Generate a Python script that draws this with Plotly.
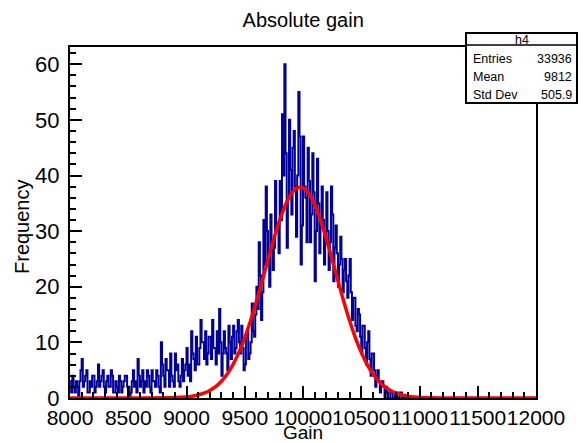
import numpy as np
import plotly.graph_objects as go

# ---- histogram definition (h4) ----
bin_lo = 8000
bin_hi = 12000
n_bins = 400

counts = [
    # 8000-8200
    3, 1, 4, 2, 1, 3, 2, 0, 3, 5, 7, 2, 3, 4, 5, 1, 1, 3, 2, 4,
    # 8200-8400
    4, 1, 2, 3, 6, 2, 3, 4, 5, 2, 1, 3, 4, 2, 2, 5, 4, 1, 1, 3,
    # 8400-8600
    2, 1, 4, 3, 1, 2, 3, 4, 4, 2, 2, 0, 1, 3, 5, 2, 3, 1, 7, 4,
    # 8600-8800
    2, 3, 5, 1, 3, 2, 5, 4, 2, 1, 5, 3, 3, 2, 5, 4, 2, 1, 10, 6,
    # 8800-9000
    4, 2, 7, 5, 5, 2, 8, 4, 3, 2, 8, 5, 6, 3, 2, 4, 7, 3, 5, 6,
    # 9000-9200
    9, 4, 6, 3, 12, 8, 7, 5, 11, 6, 6, 9, 14, 10, 10, 7, 12, 6, 8, 11,
    # 9200-9400
    11, 7, 14, 9, 9, 6, 12, 8, 16, 10, 4, 8, 12, 9, 8, 5, 13, 10, 7, 11,
    # 9400-9600
    13, 8, 9, 12, 14, 10, 8, 13, 9, 5, 6, 11, 12, 7, 8, 10, 17, 12, 11, 15,
    # 9600-9800
    20, 16, 28, 22, 14, 19, 32, 24, 38, 30, 25, 20, 33, 28, 23, 27, 39, 31, 30, 26,
    # 9800-10000
    39, 32, 51, 40, 60, 44, 27, 36, 50, 41, 33, 45, 48, 38, 29, 40, 55, 47, 24, 31,
    # 10000-10200
    47, 38, 36, 28, 45, 39, 28, 33, 44, 37, 21, 30, 43, 35, 26, 31, 38, 32, 24, 29,
    # 10200-10400
    37, 30, 23, 28, 38, 33, 21, 27, 31, 26, 20, 24, 29, 25, 19, 23, 25, 21, 18, 22,
    # 10400-10600
    25, 19, 14, 18, 18, 13, 12, 16, 15, 11, 8, 13, 13, 9, 6, 10, 12, 7, 4, 8,
    # 10600-10800
    8, 5, 2, 4, 5, 3, 1, 3, 3, 2, 0, 2, 1, 0, 0, 1, 1, 0, 0, 1,
    # 10800-11000
    1, 0, 0, 1, 1, 0, 0, 0, 0, 0, 0, 0, 0, 0, 0, 0, 0, 0, 0, 0,
    # 11000-12000
    0, 0, 0, 0, 0, 0, 0, 0, 0, 0, 0, 0, 0, 0, 0, 0, 0, 0, 0, 0,
    0, 0, 0, 0, 0, 0, 0, 0, 0, 0, 0, 0, 0, 0, 0, 0, 0, 0, 0, 0,
    0, 0, 0, 0, 0, 0, 0, 0, 0, 0, 0, 0, 0, 0, 0, 0, 0, 0, 0, 0,
    0, 0, 0, 0, 0, 0, 0, 0, 0, 0, 0, 0, 0, 0, 0, 0, 0, 0, 0, 0,
    0, 0, 0, 0, 0, 0, 0, 0, 0, 0, 0, 0, 0, 0, 0, 0, 0, 0, 0, 0,
]

# ---- gaussian fit curve ----
fit_x = [8000, 8500, 8900, 9000, 9050, 9100, 9150, 9200, 9250, 9300, 9350, 9400,
         9450, 9500, 9550, 9600, 9650, 9700, 9750, 9800, 9850, 9900, 9950,
         10000, 10050, 10100, 10150, 10200, 10250, 10300, 10350, 10400, 10450,
         10500, 10550, 10600, 10650, 10700, 10750, 10800, 10850, 10900, 10950,
         11100, 11500, 12000]
fit_y = [0.0, 0.0, 0.08, 0.19, 0.33, 0.54, 0.86, 1.35, 2.04, 3.02, 4.33, 6.04,
         8.20, 10.82, 13.89, 17.35, 21.08, 24.90, 28.61, 31.97, 34.75, 36.73, 37.77,
         37.77, 36.73, 34.75, 31.97, 28.61, 24.90, 21.08, 17.35, 13.89, 10.82,
         8.20, 6.04, 4.33, 3.02, 2.04, 1.35, 0.86, 0.54, 0.33, 0.19,
         0.03, 0.0, 0.0]

x_tick_vals = [8000, 8500, 9000, 9500, 10000, 10500, 11000, 11500, 12000]
x_tick_text = ["8000", "8500", "9000", "9500", "10000", "10500", "11000", "11500", "12000"]

stats_name = "h4"
stats_labels = ["Entries", "Mean", "Std Dev"]
stats_values = ["33936", "9812", "505.9"]

title_text = "Absolute gain"
x_title = "Gain"
y_title = "Frequency"

edges = np.linspace(bin_lo, bin_hi, n_bins + 1)
hx = list(edges[:-1]) + [edges[-1]]
hy = list(counts) + [counts[-1]]

fig = go.Figure()
fig.add_trace(go.Scatter(x=hx, y=hy, mode="lines", line_shape="hv",
                         line=dict(color="#000099", width=2), hoverinfo="skip"))
fig.add_trace(go.Scatter(x=fit_x, y=fit_y, mode="lines", line_shape="spline",
                         line=dict(color="#ff0000", width=3.5), hoverinfo="skip"))

FONT = "Liberation Sans, Arial, Helvetica, sans-serif"
L, R, T, B = 70, 47, 47, 45
W, H = 583, 443
pw, ph = W - L - R, H - T - B

def px(x):
    return (x - L) / pw

def py(y):
    return (H - B - y) / ph

fig.update_layout(
    width=W, height=H, margin=dict(l=L, r=R, t=T, b=B, autoexpand=False),
    paper_bgcolor="white", plot_bgcolor="white", showlegend=False,
    font=dict(family=FONT, color="black"),
    title=dict(text=title_text, x=0.52, xanchor="center", y=1 - 20 / H, yanchor="middle",
               font=dict(size=20, family=FONT)),
)
fig.update_xaxes(range=[bin_lo, bin_hi], tickmode="array", tickvals=x_tick_vals, ticktext=x_tick_text,
                 tickangle=0, automargin=False,
                 ticks="inside", ticklen=12, tickwidth=1.5, tickcolor="black",
                 minor=dict(ticks="inside", tickmode="linear", tick0=8000, dtick=100, ticklen=6,
                            tickwidth=1.5, tickcolor="black"),
                 showline=True, mirror=True, linecolor="black", linewidth=2,
                 showgrid=False, zeroline=False, tickfont=dict(size=21, family=FONT))
fig.update_yaxes(range=[0, 63.1], tick0=0, dtick=10, automargin=False, ticklabelstandoff=4,
                 ticks="inside", ticklen=12, tickwidth=1.5, tickcolor="black",
                 minor=dict(ticks="inside", dtick=2, ticklen=6, tickwidth=1.5, tickcolor="black"),
                 showline=True, mirror=True, linecolor="black", linewidth=2,
                 showgrid=False, zeroline=False, tickfont=dict(size=22, family=FONT))

# axis titles
fig.add_annotation(text=x_title, xref="paper", yref="paper", x=px(303), y=py(432),
                   showarrow=False, font=dict(size=19, family=FONT), xanchor="center", yanchor="middle")
fig.add_annotation(text=y_title, xref="paper", yref="paper", x=px(22), y=py(227), textangle=-90,
                   showarrow=False, font=dict(size=20, family=FONT), xanchor="center", yanchor="middle")

# stats box
bx0, bx1, by0, by1, bsep = 466, 577, 33, 103, 45
fig.add_shape(type="rect", xref="paper", yref="paper", x0=px(bx0), x1=px(bx1), y0=py(by1), y1=py(by0),
              line=dict(color="black", width=2), fillcolor="white", layer="above")
fig.add_shape(type="line", xref="paper", yref="paper", x0=px(bx0), x1=px(bx1), y0=py(bsep), y1=py(bsep),
              line=dict(color="black", width=1.5), layer="above")
fig.add_annotation(text=stats_name, xref="paper", yref="paper", x=px((bx0 + bx1) / 2), y=py(39.5),
                   showarrow=False, font=dict(size=12.5, family=FONT), xanchor="center", yanchor="middle")
rows_y = [59, 77, 95]
for lab, val, ry in zip(stats_labels, stats_values, rows_y):
    fig.add_annotation(text=lab, xref="paper", yref="paper", x=px(471), y=py(ry),
                       showarrow=False, font=dict(size=12.5, family=FONT), xanchor="left", yanchor="middle")
    fig.add_annotation(text=val, xref="paper", yref="paper", x=px(574), y=py(ry),
                       showarrow=False, font=dict(size=12.5, family=FONT), xanchor="right", yanchor="middle")

fig.write_html("out.html")
